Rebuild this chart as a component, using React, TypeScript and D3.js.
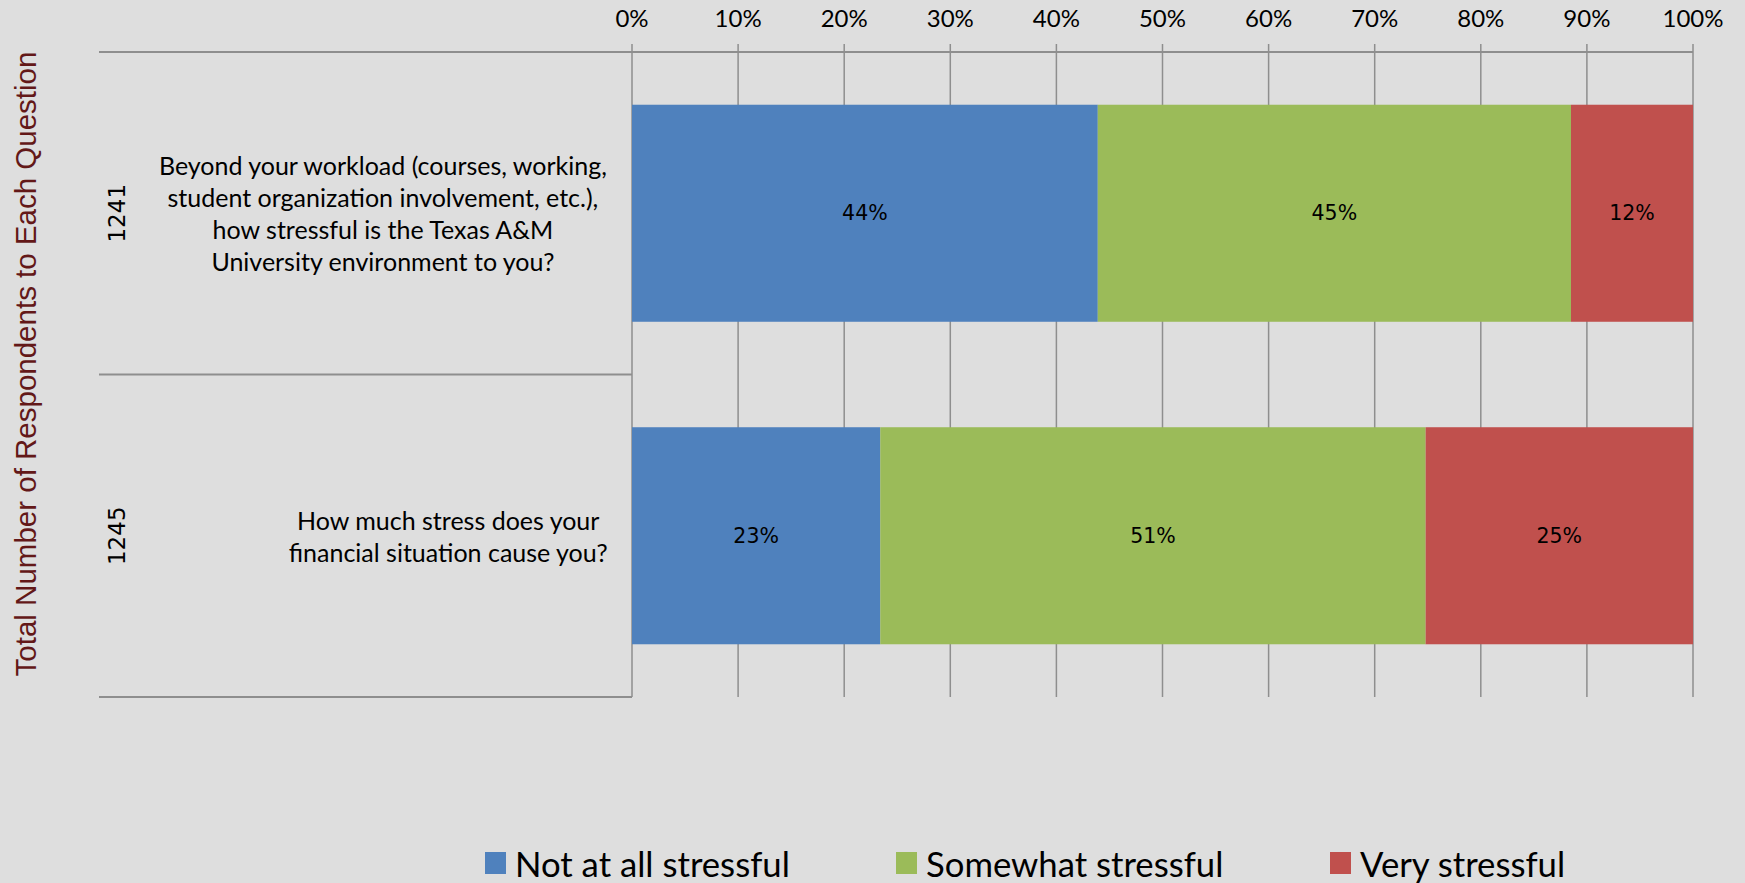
import React from 'react';
import * as d3 from 'd3';

const questionLines: string[][] = [
  [
    'Beyond your workload (courses, working,',
    'student organization involvement, etc.),',
    'how stressful is the Texas A&M',
    'University environment to you?',
  ],
  ['How much stress does your', 'financial situation cause you?'],
];
const questionKeys = ['q1', 'q2'];
const respondents = [1241, 1245];
const seriesNames = ['Not at all stressful', 'Somewhat stressful', 'Very stressful'];
const notAtAll = [43.9, 23.4];
const somewhat = [44.6, 51.4];
const very = [11.5, 25.2];
const tickValues = [0, 10, 20, 30, 40, 50, 60, 70, 80, 90, 100];
const seriesColors = ['#4f81bd', '#9bbb59', '#c0504d'];
const yTitle = 'Total Number of Respondents to Each Question';

const W = 1745;
const H = 883;
const catFont = 'Lato, "Open Sans", sans-serif';
const catSize = 25;

function measure(text: string, font: string): number {
  const c = document.createElement('canvas');
  const ctx = c.getContext('2d');
  if (!ctx) return text.length * 10;
  ctx.font = font;
  return ctx.measureText(text).width;
}

export default function App() {
  const x = d3.scaleLinear().domain([0, 100]).range([632, 1693]);
  const y = d3
    .scaleBand<string>()
    .domain(questionKeys)
    .range([52, 697])
    .paddingInner(0.327)
    .paddingOuter(0.1635);
  const step = y.step();
  const axisTop = 52;
  const axisBottom = 697;
  const catLeft = 99;
  const labelRight = 608;

  const rows = questionKeys.map((k, i) => ({
    key: k,
    s0: notAtAll[i],
    s1: somewhat[i],
    s2: very[i],
  }));
  const stack = d3.stack<any>().keys(['s0', 's1', 's2']);
  const layers = stack(rows);

  const lineH = 32;

  return (
    <svg
      width={W}
      height={H}
      style={{ position: 'fixed', left: 0, top: 0, background: '#dedede' }}
    >
      <rect x={0} y={0} width={W} height={H} fill="#dedede" />
      {/* gridlines */}
      {tickValues.map((t) => (
        <line
          key={'g' + t}
          x1={x(t)}
          x2={x(t)}
          y1={axisTop - 8}
          y2={axisBottom}
          stroke="#8e8e8e"
          strokeWidth={1.5}
        />
      ))}
      {/* top axis line */}
      <line x1={catLeft} x2={x(100)} y1={axisTop} y2={axisTop} stroke="#8e8e8e" strokeWidth={2} />
      {/* category separators */}
      {[1, 2].map((j) => (
        <line
          key={'sep' + j}
          x1={catLeft}
          x2={x(0)}
          y1={axisTop + j * step}
          y2={axisTop + j * step}
          stroke="#8e8e8e"
          strokeWidth={2}
        />
      ))}
      {/* tick labels */}
      {tickValues.map((t) => (
        <text
          key={'t' + t}
          x={x(t)}
          y={17}
          textAnchor="middle"
          dominantBaseline="central"
          fontFamily={catFont}
          fontSize={24}
          fill="#000"
        >
          {t + '%'}
        </text>
      ))}
      {/* bars */}
      {layers.map((layer, li) =>
        layer.map((d, i) => {
          const key = questionKeys[i];
          const x0 = x(d[0]);
          const x1 = x(d[1]);
          const yy = y(key) as number;
          return (
            <g key={'b' + li + '-' + i}>
              <rect
                x={x0}
                y={yy}
                width={x1 - x0}
                height={y.bandwidth()}
                fill={seriesColors[li]}
              />
              <text
                x={(x0 + x1) / 2}
                y={yy + y.bandwidth() / 2}
                textAnchor="middle"
                dominantBaseline="central"
                fontFamily='"DejaVu Sans", Verdana, sans-serif'
                fontSize={20.5}
                fill="#000"
              >
                {Math.round(d[1] - d[0]) + '%'}
              </text>
            </g>
          );
        })
      )}
      {/* category labels */}
      {questionKeys.map((k, i) => {
        const lines = questionLines[i];
        const font = `${catSize}px ${catFont}`;
        const maxW = d3.max(lines, (l) => measure(l, font)) || 0;
        const cx = labelRight - maxW / 2;
        const cy = (y(k) as number) + y.bandwidth() / 2;
        const startY = cy - ((lines.length - 1) * lineH) / 2;
        return (
          <g key={'cl' + k}>
            {lines.map((l, j) => (
              <text
                key={j}
                x={cx}
                y={startY + j * lineH}
                textAnchor="middle"
                dominantBaseline="central"
                fontFamily={catFont}
                fontSize={catSize}
                fill="#000"
              >
                {l}
              </text>
            ))}
            <text
              transform={`translate(117,${cy}) rotate(-90)`}
              textAnchor="middle"
              dominantBaseline="central"
              fontFamily='"DejaVu Sans", Verdana, sans-serif'
              fontSize={23}
              fill="#000"
            >
              {respondents[i]}
            </text>
          </g>
        );
      })}
      {/* y title */}
      <text
        transform={`translate(25,${(53 + 675) / 2}) rotate(-90)`}
        textAnchor="middle"
        dominantBaseline="central"
        fontFamily='"Liberation Sans", Arial, sans-serif'
        fontSize={29.5}
        fill="#631818"
      >
        {yTitle}
      </text>
      {/* legend */}
      {seriesNames.map((n, i) => {
        const lx = [485, 896, 1330][i];
        return (
          <g key={'lg' + i}>
            <rect x={lx} y={852} width={21} height={22} fill={seriesColors[i]} />
            <text
              x={lx + 30}
              y={863}
              dominantBaseline="central"
              fontFamily={catFont}
              fontSize={34.7}
              fill="#000"
            >
              {n}
            </text>
          </g>
        );
      })}
    </svg>
  );
}
